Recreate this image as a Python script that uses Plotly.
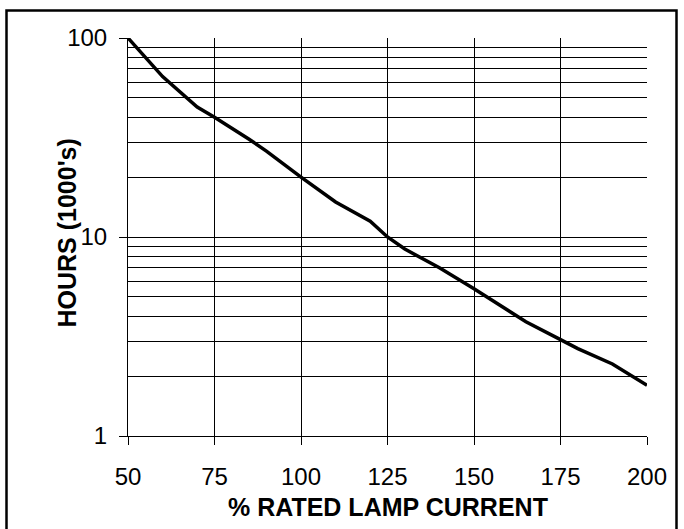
import plotly.graph_objects as go

# Data
current_pct = [50, 60, 70, 75, 85, 90, 100, 110, 120, 125, 130, 140, 150, 165, 175, 180, 190, 200]
hours_k = [100, 64, 45, 40, 31, 27, 20, 15, 12, 10, 8.7, 7.0, 5.5, 3.75, 3.05, 2.75, 2.3, 1.8]

x_ticks = [50, 75, 100, 125, 150, 175, 200]
y_ticks = [1, 10, 100]
y_ticktext = ["1", "10", "100"]
y_minor = [2, 3, 4, 5, 6, 7, 8, 9, 20, 30, 40, 50, 60, 70, 80, 90]

x_title = "<b>% RATED LAMP CURRENT</b>"
y_title = "<b>HOURS (1000's)</b>"

FONT = "Liberation Sans, Arial, sans-serif"

W, H = 684, 529
ML, MR, MT, MB = 128, 37, 38, 93
pw = W - ML - MR
ph = H - MT - MB


def px_to_paper_x(px):
    return (px - ML) / pw


def px_to_paper_y(py):
    return (H - MB - py) / ph


fig = go.Figure()
fig.add_trace(go.Scatter(
    x=current_pct, y=hours_k, mode="lines",
    line=dict(color="black", width=3.5),
    showlegend=False, hoverinfo="skip",
))

fig.add_shape(
    type="rect", xref="paper", yref="paper",
    x0=px_to_paper_x(6.5), x1=px_to_paper_x(676.5),
    y0=px_to_paper_y(545), y1=px_to_paper_y(10.5),
    line=dict(color="black", width=2.5), fillcolor="rgba(0,0,0,0)",
    layer="above",
)

fig.add_annotation(
    text=x_title, xref="paper", yref="paper",
    x=px_to_paper_x(388), y=px_to_paper_y(507),
    xanchor="center", yanchor="middle", showarrow=False,
    font=dict(size=25, family=FONT, color="black"),
)
fig.add_annotation(
    text=y_title, xref="paper", yref="paper",
    x=px_to_paper_x(66.5), y=px_to_paper_y(233),
    xanchor="center", yanchor="middle", showarrow=False, textangle=-90,
    font=dict(size=25, family=FONT, color="black"),
)

fig.update_layout(
    width=W, height=H,
    margin=dict(l=ML, r=MR, t=MT, b=MB, pad=0),
    paper_bgcolor="white", plot_bgcolor="white",
    font=dict(family=FONT, color="black", size=23),
    xaxis=dict(
        range=[50, 200], tickvals=x_ticks,
        showgrid=True, gridcolor="black", gridwidth=1,
        showline=True, linecolor="black", linewidth=1,
        ticks="outside", ticklen=8, tickcolor="black", tickwidth=1,
        tickfont=dict(size=24, family=FONT, color="black"),
        ticklabelstandoff=11,
        zeroline=False,
    ),
    yaxis=dict(
        type="log", range=[0, 2],
        tickvals=y_ticks, ticktext=y_ticktext,
        showgrid=True, gridcolor="black", gridwidth=1,
        showline=True, linecolor="black", linewidth=1,
        ticks="outside", ticklen=8, tickcolor="black", tickwidth=1,
        tickfont=dict(size=24, family=FONT, color="black"),
        ticklabelstandoff=7,
        zeroline=False,
        minor=dict(tickvals=y_minor, showgrid=True, gridcolor="black",
                   gridwidth=1, ticks=""),
    ),
)

fig.write_html(
    "out.html",
    config={"displayModeBar": False},
    post_script="document.body.style.margin='0';",
)
